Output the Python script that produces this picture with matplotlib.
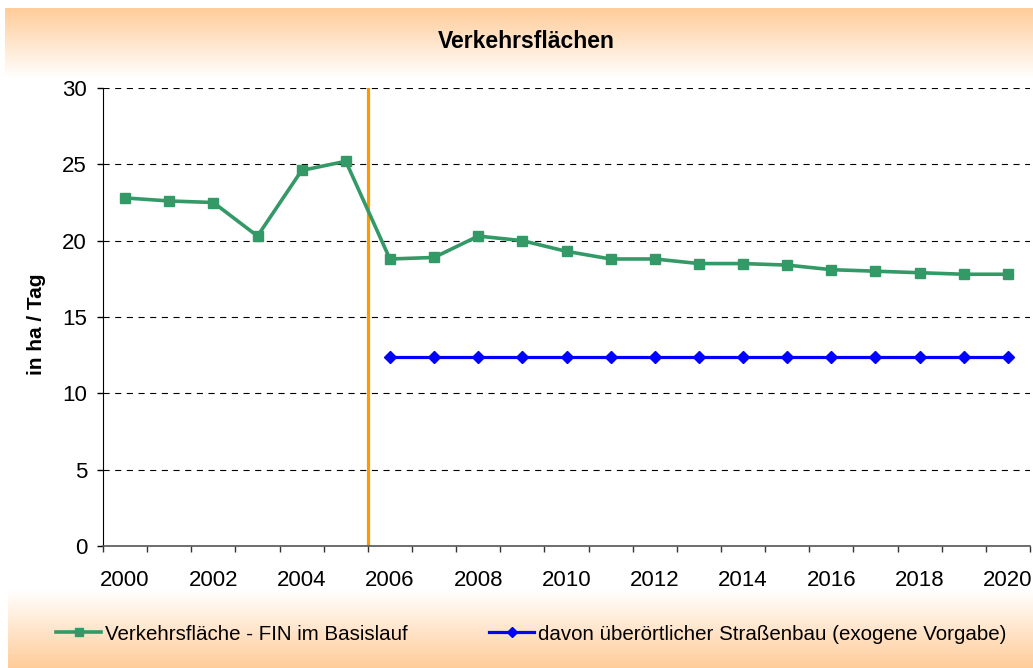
import numpy as np
import matplotlib
matplotlib.use('Agg')
import matplotlib.pyplot as plt

plt.rcParams['font.family'] = ['Liberation Sans', 'DejaVu Sans']

# data
years = list(range(2000, 2021))
flaeche = [22.8, 22.6, 22.5, 20.3, 24.6, 25.2, 18.8, 18.9, 20.3, 20.0, 19.3,
           18.8, 18.8, 18.5, 18.5, 18.4, 18.1, 18.0, 17.9, 17.8, 17.8]
strasse_years = list(range(2006, 2021))
strasse = [12.4] * len(strasse_years)
split_after = 2005  # orange marker between 2005 and 2006

W, H = 1033, 668
fig = plt.figure(figsize=(W / 100, H / 100), dpi=100, facecolor='white')

# orange/white gradient bands behind everything
bg = fig.add_axes([0, 0, 1, 1], zorder=-1)
bg.set_xlim(0, W)
bg.set_ylim(H, 0)
bg.axis('off')
peach = np.array([1.0, 0.80, 0.60])
white = np.array([1.0, 1.0, 1.0])
t = np.linspace(0, 1, 100)[:, None]
top_band = (peach * (1 - t) + white * t)[:, None, :]
bot_band = (white * (1 - t) + peach * t)[:, None, :]
bg.imshow(top_band, extent=(5, W, 78, 8), aspect='auto', interpolation='bilinear')
bg.imshow(bot_band, extent=(8, W, H, 590), aspect='auto', interpolation='bilinear')

ax = fig.add_axes([103 / W, (H - 546) / H, (1030 - 103) / W, (546 - 88) / H])
ax.set_facecolor('none')

x = np.arange(len(years))
xs = np.array([years.index(y) for y in strasse_years])

ax.plot(x, flaeche, color='#339966', lw=2.6, marker='s', ms=6.5,
        label='Verkehrsfläche - FIN im Basislauf', zorder=3)
ax.plot(xs, strasse, color='#0000FF', lw=2.3, marker='D', ms=6,
        label='davon überörtlicher Straßenbau (exogene Vorgabe)', zorder=3)
ax.axvline(years.index(split_after) + 0.5, color='#FF9900', lw=2.3, zorder=2)

ax.set_xlim(-0.5, len(years) - 0.5)
ax.set_ylim(0, 30)
ax.set_yticks(range(0, 31, 5))
ax.yaxis.grid(True, color='black', lw=0.8, dashes=(5.5, 5))
ax.set_axisbelow(True)

ax.set_xticks(np.arange(-0.5, len(years)), labels=[])
ax.set_xticks(x[::2], labels=[str(y) for y in years[::2]], minor=True)
ax.tick_params(axis='x', which='major', direction='out', length=4.5, width=1, color='#333333')
ax.tick_params(axis='x', which='minor', length=0, pad=17, labelsize=16)
ax.tick_params(axis='y', direction='out', length=4.5, width=1, pad=7, labelsize=16)

for s in ['top', 'right']:
    ax.spines[s].set_visible(False)
ax.spines['left'].set_color('black')
ax.spines['bottom'].set_color('#555555')
ax.spines['bottom'].set_linewidth(1.2)

fig.text(526.5 / W, (H - 42) / H, 'Verkehrsflächen', ha='center', va='center',
         fontsize=16.5, fontweight='bold')
fig.text(37 / W, (H - 324) / H, 'in ha / Tag', ha='center', va='center',
         rotation=90, fontsize=15, fontweight='bold')

fig.legend(loc='center left', bbox_to_anchor=(56 / W, (H - 634) / H), ncol=2,
           frameon=False, fontsize=14.8, handlelength=2.2, handletextpad=0.2,
           columnspacing=3.95, borderpad=0, borderaxespad=0, markerscale=0.9)

fig.savefig('out.png', dpi=100, facecolor='white')
